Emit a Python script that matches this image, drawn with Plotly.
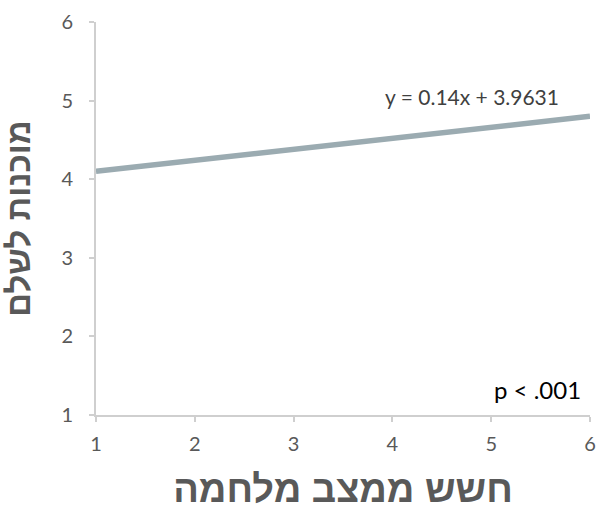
import plotly.graph_objects as go

x_vals = [1, 6]
y_vals = [4.10, 4.80]
x_ticks = [1, 2, 3, 4, 5, 6]
y_ticks = [1, 2, 3, 4, 5, 6]
equation_text = "y = 0.14x + 3.9631"
p_text = "p < .001"
x_title = "חשש ממצב מלחמה"
y_title = "מוכנות לשלם"

fig = go.Figure()
fig.add_trace(go.Scatter(x=x_vals, y=y_vals, mode="lines",
                         line=dict(color="#9BABB1", width=5.5), showlegend=False,
                         hoverinfo="skip"))

axis_common = dict(showgrid=False, zeroline=False, showline=True, linecolor="#CFCFCF",
                   linewidth=2, ticks="outside", ticklen=5, tickcolor="#CFCFCF", tickwidth=2,
                   automargin=False,
                   tickfont=dict(family="Lato, sans-serif", size=20, color="#595959"))

fig.update_xaxes(range=[1, 6], tickvals=x_ticks, ticklabelstandoff=5, **axis_common,
                 title=dict(text=x_title, standoff=25,
                            font=dict(family="Liberation Sans, Arial, sans-serif", size=38,
                                      color="#595959", weight="bold")))
fig.update_yaxes(range=[1, 6], tickvals=y_ticks, ticklabelstandoff=12, **axis_common,
                 title=dict(text=y_title, standoff=21,
                            font=dict(family="Liberation Sans, Arial, sans-serif", size=33,
                                      color="#595959", weight="bold")))

fig.add_annotation(x=4.806, y=5.05, text=equation_text, showarrow=False, xref="x", yref="y",
                   font=dict(family="Lato, sans-serif", size=21, color="#404040"))
fig.add_annotation(x=5.47, y=1.32, text=p_text, showarrow=False, xref="x", yref="y",
                   font=dict(family="Lato, sans-serif", size=24, color="#000000"))

fig.update_layout(width=601, height=510, plot_bgcolor="white", paper_bgcolor="white",
                  margin=dict(l=96, r=11, t=22, b=95),
                  font=dict(family="Liberation Sans, Arial, sans-serif", color="#595959"))
fig.write_html("out.html", config={"displayModeBar": False})

# remove the browser's default 8px body margin so the figure fills the window exactly
with open("out.html", encoding="utf-8") as f:
    html = f.read()
html = html.replace("<head>", "<head><style>html,body{margin:0;padding:0;overflow:hidden;}</style>", 1)
with open("out.html", "w", encoding="utf-8") as f:
    f.write(html)
